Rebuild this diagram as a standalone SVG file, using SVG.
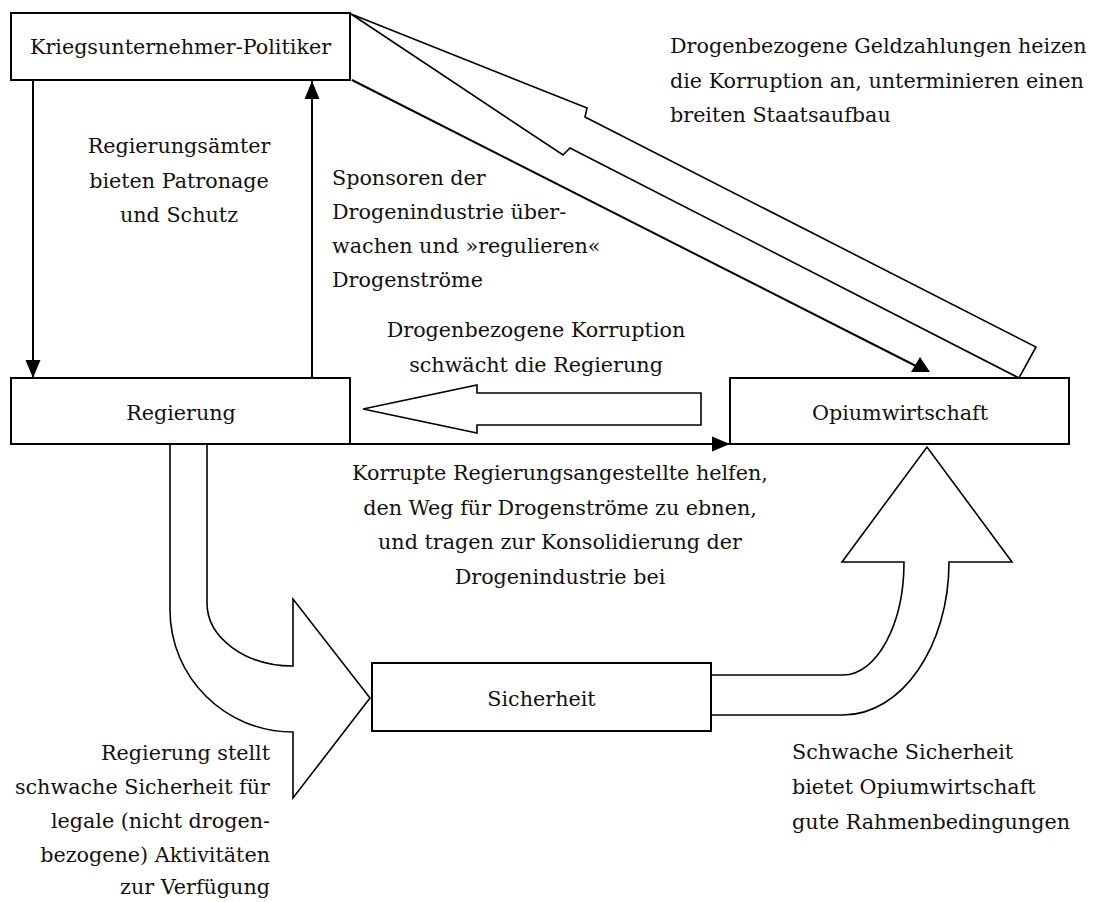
<svg xmlns="http://www.w3.org/2000/svg" width="1098" height="902" viewBox="0 0 1098 902">
<style>
text{font-family:"DejaVu Serif","Liberation Serif",serif;font-size:20.7px;fill:#111}
.box{fill:#fff;stroke:#000;stroke-width:2}
.ln{fill:none;stroke:#000;stroke-width:2}
.ha{fill:#fff;stroke:#000;stroke-width:1.6;stroke-linejoin:miter}
.c{text-anchor:middle}
.e{text-anchor:end}
</style>
<defs>
<marker id="ah" markerUnits="userSpaceOnUse" markerWidth="18" markerHeight="16" refX="18" refY="7.5" orient="auto" viewBox="0 0 18 15">
<path d="M0,0 L18,7.5 L0,15 z" fill="#000"/>
</marker>
</defs>
<rect width="1098" height="902" fill="#fff"/>
<g id="connectors">
<polygon class="ha" points="351,14 587,108 585,117 1036,347 1019,378 570,148 563,155"/>
<line class="ln" x1="352" y1="80" x2="916" y2="366" stroke-width="1.6"/>
<polygon points="911,372 930,372 920,357" fill="#000"/>
<line class="ln" x1="33" y1="80" x2="33" y2="378" marker-end="url(#ah)"/>
<line class="ln" x1="312" y1="378" x2="312" y2="81" marker-end="url(#ah)"/>
<line class="ln" x1="350" y1="444" x2="730" y2="444" marker-end="url(#ah)"/>
<polygon class="ha" points="363,409 477,385 477,393 701,393 701,425 477,425 477,433"/>
<path class="ha" d="M170,444 L170,610 C170,677.3 225.1,732 293,732 L293,798 L370,698 L293,599 L293,666 C245.5,666 207,637.8 207,603 L207,444"/>
<path class="ha" d="M711,675 L843,675 C876.7,675 904,624.4 904,562 L842,562 L927,447 L1012,562 L949,562 C949,646.5 901.5,715 843,715 L711,715"/>
</g>
<g id="node-kriegs">
<rect class="box" x="11" y="13" width="339" height="67"/>
<text class="c" x="180.5" y="54">Kriegsunternehmer-Politiker</text>
</g>
<g id="node-regierung">
<rect class="box" x="11" y="378" width="339" height="66"/>
<text class="c" x="181" y="420">Regierung</text>
</g>
<g id="node-opium">
<rect class="box" x="730" y="378" width="339" height="66"/>
<text class="c" x="900" y="420">Opiumwirtschaft</text>
</g>
<g id="node-sicherheit">
<rect class="box" x="372" y="663" width="339" height="68"/>
<text class="c" x="541.5" y="706">Sicherheit</text>
</g>
<g id="labels">
<text class="c" x="179" y="153">Regierungsämter</text>
<text class="c" x="179" y="188">bieten Patronage</text>
<text class="c" x="179" y="222">und Schutz</text>
<text x="332" y="185">Sponsoren der</text>
<text x="332" y="219">Drogenindustrie über-</text>
<text x="332" y="253">wachen und »regulieren«</text>
<text x="332" y="287">Drogenströme</text>
<text x="670" y="53">Drogenbezogene Geldzahlungen heizen</text>
<text x="670" y="88">die Korruption an, unterminieren einen</text>
<text x="670" y="122">breiten Staatsaufbau</text>
<text class="c" x="536" y="337">Drogenbezogene Korruption</text>
<text class="c" x="536" y="372">schwächt die Regierung</text>
<text class="c" x="560" y="480">Korrupte Regierungsangestellte helfen,</text>
<text class="c" x="560" y="515">den Weg für Drogenströme zu ebnen,</text>
<text class="c" x="560" y="549">und tragen zur Konsolidierung der</text>
<text class="c" x="560" y="584">Drogenindustrie bei</text>
<text class="e" x="270" y="760">Regierung stellt</text>
<text class="e" x="270" y="794">schwache Sicherheit für</text>
<text class="e" x="270" y="828">legale (nicht drogen-</text>
<text class="e" x="270" y="862">bezogene) Aktivitäten</text>
<text class="e" x="270" y="894">zur Verfügung</text>
<text x="792" y="759">Schwache Sicherheit</text>
<text x="792" y="794">bietet Opiumwirtschaft</text>
<text x="792" y="829">gute Rahmenbedingungen</text>
</g>
</svg>
